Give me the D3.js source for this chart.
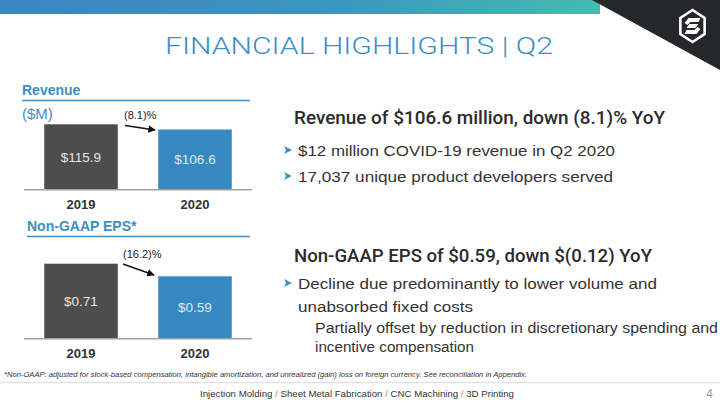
<!DOCTYPE html>
<html><head><meta charset="utf-8">
<script src="https://cdn.jsdelivr.net/npm/d3@7"></script>
<style>
html,body{margin:0;padding:0;background:#fff;}
svg{display:block;}
text{font-family:"Liberation Sans",Arial,sans-serif;}
</style></head>
<body>
<script>
// ---- data ----
const years = ["2019", "2020"];
const revenueValues = [115.9, 106.6];
const revenueLabels = ["$115.9", "$106.6"];
const revenueChange = "(8.1)%";
const epsValues = [0.71, 0.59];
const epsLabels = ["$0.71", "$0.59"];
const epsChange = "(16.2)%";
const barColors = ["#4d4d4d", "#3589c0"];
const footerItems = ["Injection Molding", "Sheet Metal Fabrication", "CNC Machining", "3D Printing"];

const W = 720, H = 405;
const blue = "#3a8fc6", dark = "#333333";
const svg = d3.select("body").append("svg").attr("width", W).attr("height", H);

// ---- header ----
const defs = svg.append("defs");
const g = defs.append("linearGradient").attr("id", "topg").attr("x1", 0).attr("x2", 1);
g.append("stop").attr("offset", 0).attr("stop-color", "#3a87c2");
g.append("stop").attr("offset", 0.55).attr("stop-color", "#3b95c0");
g.append("stop").attr("offset", 1).attr("stop-color", "#46bbb0");
defs.append("marker").attr("id", "arr").attr("viewBox", "0 0 10 10").attr("refX", 9).attr("refY", 5)
  .attr("markerWidth", 5).attr("markerHeight", 5).attr("orient", "auto")
  .append("path").attr("d", "M0,0L10,5L0,10z").attr("fill", "#111");

svg.append("rect").attr("x", 0).attr("y", 0).attr("width", 600).attr("height", 14).attr("fill", "url(#topg)");
svg.append("path").attr("d", "M592,0L720,0L720,70Z").attr("fill", "#26272b");
// logo
const lc = [692.5, 26], rx = 14, ry = 16;
const hex = d3.range(6).map(i => { const a = Math.PI / 2 + i * Math.PI / 3; return [lc[0] + rx * Math.cos(a), lc[1] - ry * Math.sin(a)]; });
svg.append("path").attr("d", "M" + hex.join("L") + "Z").attr("fill", "none").attr("stroke", "#fff").attr("stroke-width", 2.6);
svg.append("path").attr("d", `M${lc[0]-8},${lc[1]-3}L${lc[0]-4},${lc[1]-8}L${lc[0]+8},${lc[1]-8}L${lc[0]+6},${lc[1]-4}L${lc[0]-2},${lc[1]-4}L${lc[0]-5},${lc[1]-1}Z`).attr("fill", "#fff");
svg.append("path").attr("d", `M${lc[0]+8},${lc[1]+3}L${lc[0]+4},${lc[1]+8}L${lc[0]-8},${lc[1]+8}L${lc[0]-6},${lc[1]+4}L${lc[0]+2},${lc[1]+4}L${lc[0]+5},${lc[1]+1}Z`).attr("fill", "#fff");
svg.append("path").attr("d", `M${lc[0]-6},${lc[1]+2}L${lc[0]-3},${lc[1]-2}L${lc[0]+6},${lc[1]-2}L${lc[0]+3},${lc[1]+2}Z`).attr("fill", "#fff");

svg.append("text").attr("x", 165).attr("y", 53.5).attr("textLength", 388).attr("lengthAdjust", "spacingAndGlyphs")
  .style("font-family", 'Roboto,"Liberation Sans",sans-serif').style("font-weight", 300).style("font-size", "23.5px")
  .attr("fill", blue).text("FINANCIAL HIGHLIGHTS | Q2");

// ---- charts ----
const x = d3.scaleBand().domain(years).range([24, 252]).paddingInner(0.355).paddingOuter(0.1775);

function chart(cfg) {
  const y = cfg.y;
  const gg = svg.append("g");
  gg.append("text").attr("x", cfg.titleX).attr("y", cfg.titleY).style("font-size", "14px").style("font-weight", "bold")
    .attr("fill", blue).text(cfg.title);
  gg.append("line").attr("x1", cfg.titleX).attr("x2", 250).attr("y1", cfg.ruleY).attr("y2", cfg.ruleY)
    .attr("stroke", blue).attr("stroke-width", 1.5);
  gg.selectAll("rect.bar").data(cfg.values).join("rect").attr("class", "bar")
    .attr("x", (d, i) => x(years[i])).attr("width", x.bandwidth())
    .attr("y", d => y(d)).attr("height", d => y(0) - y(d))
    .attr("fill", (d, i) => barColors[i]);
  gg.append("line").attr("x1", 24).attr("x2", 252).attr("y1", y(0) + 0.5).attr("y2", y(0) + 0.5)
    .attr("stroke", "#a0a0a0").attr("stroke-width", 1.6);
  gg.selectAll("text.val").data(cfg.values).join("text").attr("class", "val")
    .attr("x", (d, i) => x(years[i]) + x.bandwidth() / 2).attr("y", d => (y(d) + y(0)) / 2 + 5)
    .attr("text-anchor", "middle").style("font-size", "13.5px").attr("fill", "#e6e6e6")
    .text((d, i) => cfg.labels[i]);
  const ax = d3.axisBottom(x).tickSize(0).tickPadding(0);
  const axg = gg.append("g").attr("transform", `translate(0,${cfg.yearY})`).call(ax);
  axg.select(".domain").remove();
  axg.selectAll("text").style("font-size", "13px").style("font-weight", "bold").attr("fill", dark)
    .style("font-family", '"Liberation Sans",Arial,sans-serif').attr("dy", 0);
  gg.append("text").attr("x", cfg.pctX).attr("y", cfg.pctY).style("font-size", "11px").attr("fill", "#222").text(cfg.change);
  gg.append("line").attr("x1", cfg.arrow[0]).attr("y1", cfg.arrow[1]).attr("x2", cfg.arrow[2]).attr("y2", cfg.arrow[3])
    .attr("stroke", "#111").attr("stroke-width", 1.5).attr("marker-end", "url(#arr)");
}

chart({
  title: "Revenue", titleX: 22, titleY: 95, ruleY: 100.5, values: revenueValues, labels: revenueLabels,
  y: d3.scaleLinear().domain([0, 130]).range([189.3, 189.3 - 130 * 65 / 115.9]),
  yearY: 208.5, pctX: 124, pctY: 119, change: revenueChange, arrow: [125, 125.5, 155, 130]
});
svg.append("text").attr("x", 22).attr("y", 118.5).style("font-size", "15px").attr("fill", blue).text("($M)");
chart({
  title: "Non-GAAP EPS*", titleX: 27, titleY: 231, ruleY: 236.5, values: epsValues, labels: epsLabels,
  y: d3.scaleLinear().domain([0, 0.8]).range([338.3, 338.3 - 0.8 * 74.6 / 0.71]),
  yearY: 357.5, pctX: 123, pctY: 258, change: epsChange, arrow: [123, 264, 154, 275]
});

// ---- right-hand text ----
function txt(xp, yp, s, size, len, opts = {}) {
  const t = svg.append("text").attr("x", xp).attr("y", yp).style("font-size", size + "px")
    .attr("fill", opts.fill || dark).text(s);
  if (opts.weight) t.style("font-weight", opts.weight);
  if (opts.family) t.style("font-family", opts.family);
  if (len) t.attr("textLength", len).attr("lengthAdjust", "spacingAndGlyphs");
  return t;
}
function bullet(xp, yc) {
  svg.append("path").attr("d", `M${xp},${yc-4}L${xp+8},${yc}L${xp},${yc+4}L${xp+2},${yc}Z`).attr("fill", "#3a8fc6");
}
const headFont = 'Roboto,"Liberation Sans",sans-serif';
txt(294, 123.5, "Revenue of $106.6 million, down (8.1)% YoY", 18.5, 371, { weight: 500, fill: "#2b2b2b", family: headFont });
bullet(284, 150); txt(298, 155.5, "$12 million COVID-19 revenue in Q2 2020", 15.5, 317);
bullet(284, 176); txt(298, 181.5, "17,037 unique product developers served", 15.5, 315);
txt(294, 261.5, "Non-GAAP EPS of $0.59, down $(0.12) YoY", 18.5, 358, { weight: 500, fill: "#2b2b2b", family: headFont });
bullet(284, 283); txt(298, 289, "Decline due predominantly to lower volume and", 15.5, 359);
txt(298, 311.5, "unabsorbed fixed costs", 15.5, 175);
txt(315, 333, "Partially offset by reduction in discretionary spending and", 14, 403);
txt(315, 352, "incentive compensation", 14, 159);

// ---- footnote & footer ----
svg.append("text").attr("x", 4).attr("y", 377).style("font-size", "6.8px").style("font-style", "italic")
  .attr("fill", dark).attr("textLength", 523).attr("lengthAdjust", "spacingAndGlyphs")
  .text("*Non-GAAP: adjusted for stock-based compensation, intangible amortization, and unrealized (gain) loss on foreign currency. See reconciliation in Appendix.");
svg.append("line").attr("x1", 0).attr("x2", 720).attr("y1", 382.5).attr("y2", 382.5).attr("stroke", "#e2e2e2").attr("stroke-width", 1.5);
const ft = svg.append("text").attr("x", 200).attr("y", 397).style("font-size", "9.5px").attr("fill", dark)
  .attr("textLength", 314).attr("lengthAdjust", "spacingAndGlyphs");
footerItems.forEach((s, i) => {
  if (i > 0) ft.append("tspan").attr("fill", "#e8772e").text(" / ");
  ft.append("tspan").text(s);
});
svg.append("text").attr("x", 713).attr("y", 398).attr("text-anchor", "end").style("font-size", "12px").attr("fill", "#999").text("4");
</script>
</body></html>
